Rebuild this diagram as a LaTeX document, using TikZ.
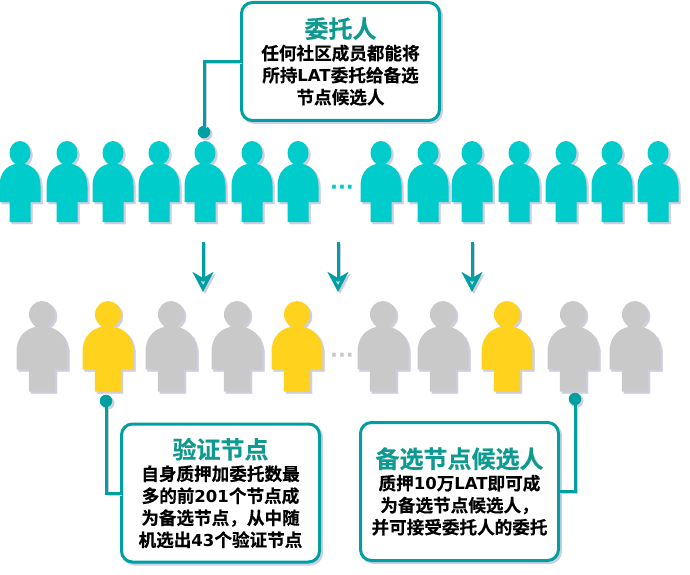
\documentclass[tikz,border=0pt]{standalone}
\usepackage{fontspec}
\setmainfont{Noto Sans CJK SC}[BoldFont={* Bold},BoldFeatures={FakeBold=0.35}]
\newfontfamily\latfont{DejaVu Sans}
\usetikzlibrary{arrows.meta,shadows}
\definecolor{linkteal}{HTML}{00A0A2}
\definecolor{titleteal}{HTML}{0E9A90}
\definecolor{delegcyan}{HTML}{00CCCC}
\definecolor{valyellow}{HTML}{FFD21E}
\definecolor{candgray}{HTML}{C9C9C9}
\definecolor{softblue}{HTML}{CDCEE0}
\tikzset{
	softshadow/.style={general shadow={fill=softblue,draw=softblue,shadow xshift=2pt,shadow yshift=-2pt}},
	lineshadow/.style={general shadow={fill=none,draw=softblue,shadow xshift=2pt,shadow yshift=-2pt}},
	infobox/.style={draw=linkteal,line width=3pt,fill=white,rounded corners=11pt,minimum width=198pt,minimum height=118pt,align=center,inner sep=0pt,
		font=\bfseries\fontsize{17.6}{22}\selectfont,softshadow},
	linkline/.style={draw=linkteal,line width=3pt,lineshadow},
	linkdot/.style={circle,fill=linkteal,minimum size=12.5pt,inner sep=0pt,softshadow},
	downarrow/.style={draw=linkteal,line width=3pt,lineshadow,-{Stealth[open,line width=3.2pt,length=20pt,width=21pt,inset=6pt]}},
	moredots/.style={font=\latfont\bfseries\fontsize{21}{21}\selectfont,inner sep=0pt},
	pics/person/.style={code={
		\fill[fill=#1,softshadow] (0,12) ellipse (10.5 and 12)
			(-20.5,61) -- (-20.5,45) .. controls (-20.5,31) and (-12,22.5) .. (0,22.5)
			.. controls (12,22.5) and (20.5,31) .. (20.5,45) -- (20.5,61) -- (10.5,61) -- (10.5,81)
			-- (-10.5,81) -- (-10.5,61) -- cycle;
	}},
}
\newcommand{\boxhead}[1]{{\color{titleteal}\fontsize{24}{28}\selectfont #1}}
\newcommand{\latin}[1]{{\latfont\fontsize{16.5}{22}\selectfont #1}}
\begin{document}
\begin{tikzpicture}[x=1pt,y=-1pt]
	\useasboundingbox (0,0) rectangle (690,575);

	% upper row
	\foreach \px in {20,67,113,159,205,252,298,381,428,472,519,566,612,658}
		\pic at (\px,141) {person=delegcyan};
	\node[moredots,text=delegcyan] (moreup) at (342,190) {···};

	% lower row
	\foreach \px in {42,171,237,383,443,573,635}
		\pic[xscale=1.24,yscale=1.12] at (\px,301) {person=candgray};
	\foreach \px in {108,297,507}
		\pic[xscale=1.24,yscale=1.12] at (\px,301) {person=valyellow};
	\node[moredots,text=candgray] (moredown) at (342,358) {···};

	% arrows
	\foreach \name/\px in {a/203,b/338,c/472}{
		\coordinate (from\name) at (\px,242);
		\coordinate (to\name) at (\px,292);
		\draw[downarrow] (from\name) -- (to\name);
	}

	% boxes
	\node[infobox] (delegator) at (340.5,61.5) {\boxhead{委托人}\\任何社区成员都能将\\所持\latin{LAT}委托给备选\\节点候选人};
	\node[infobox,minimum height=138pt] (validator) at (220.5,493) {\boxhead{验证节点}\\自身质押加委托数最\\多的前\latin{201}个节点成\\为备选节点，从中随\\机选出\latin{43}个验证节点};
	\node[infobox,minimum height=138pt] (candidate) at (459.5,491.5) {\boxhead{备选节点候选人}\\质押\latin{10}万\latin{LAT}即可成\\为备选节点候选人，\\并可接受委托人的委托};

	% leaders
	\node[linkdot] (dotup) at (204,132) {};
	\node[linkdot] (dotval) at (106,401) {};
	\node[linkdot] (dotcand) at (575,399) {};
	\draw[linkline] (delegator.west) -| (dotup);
	\draw[linkline] (validator.west) -| (dotval);
	\draw[linkline] (candidate.east) -| (dotcand);
\end{tikzpicture}
\end{document}
